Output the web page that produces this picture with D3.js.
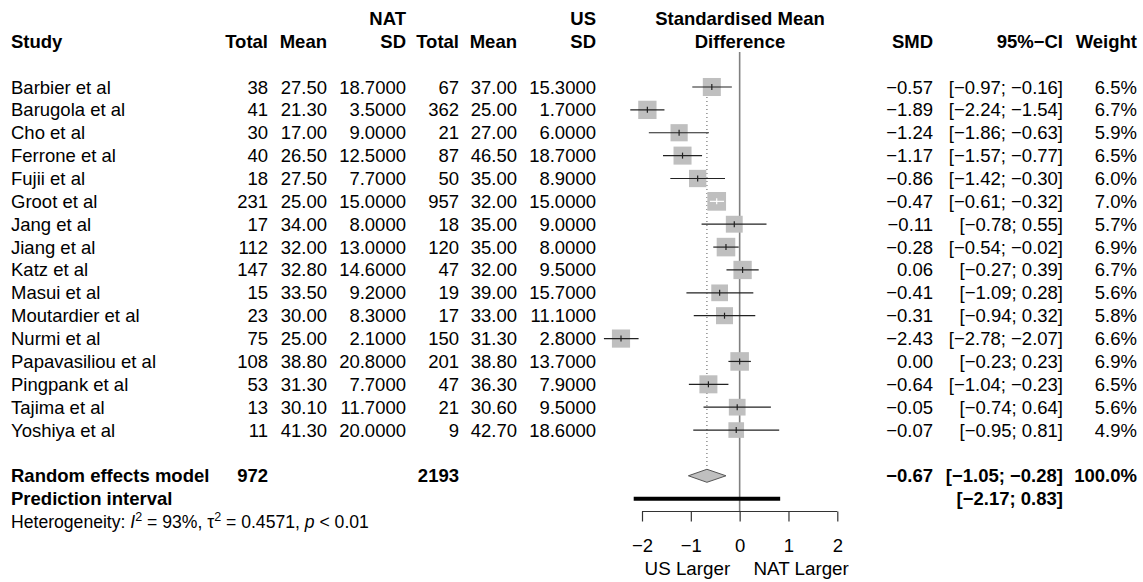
<!DOCTYPE html>
<html>
<head>
<meta charset="utf-8">
<script src="https://cdn.jsdelivr.net/npm/d3@7"></script>
<style>
  body { margin: 0; background: #fff; }
  svg { font-family: "Liberation Sans", Arial, sans-serif; }
</style>
</head>
<body>
<svg id="forest" width="1143" height="582"></svg>
<script>
var studies = ["Barbier et al", "Barugola et al", "Cho et al", "Ferrone et al", "Fujii et al", "Groot et al",
    "Jang et al", "Jiang et al", "Katz et al", "Masui et al", "Moutardier et al", "Nurmi et al",
    "Papavasiliou et al", "Pingpank et al", "Tajima et al", "Yoshiya et al"];
var natTotal = [38, 41, 30, 40, 18, 231, 17, 112, 147, 15, 23, 75, 108, 53, 13, 11];
var natMean = [27.5, 21.3, 17, 26.5, 27.5, 25, 34, 32, 32.8, 33.5, 30, 25, 38.8, 31.3, 30.1, 41.3];
var natSD = [18.7, 3.5, 9, 12.5, 7.7, 15, 8, 13, 14.6, 9.2, 8.3, 2.1, 20.8, 7.7, 11.7, 20];
var usTotal = [67, 362, 21, 87, 50, 957, 18, 120, 47, 19, 17, 150, 201, 47, 21, 9];
var usMean = [37, 25, 27, 46.5, 35, 32, 35, 35, 32, 39, 33, 31.3, 38.8, 36.3, 30.6, 42.7];
var usSD = [15.3, 1.7, 6, 18.7, 8.9, 15, 9, 8, 9.5, 15.7, 11.1, 2.8, 13.7, 7.9, 9.5, 18.6];
var smd = [-0.57, -1.89, -1.24, -1.17, -0.86, -0.47, -0.11, -0.28, 0.06, -0.41, -0.31, -2.43, 0.00, -0.64, -0.05, -0.07];
var ciLow = [-0.97, -2.24, -1.86, -1.57, -1.42, -0.61, -0.78, -0.54, -0.27, -1.09, -0.94, -2.78, -0.23, -1.04, -0.74, -0.95];
var ciHigh = [-0.16, -1.54, -0.63, -0.77, -0.30, -0.32, 0.55, -0.02, 0.39, 0.28, 0.32, -2.07, 0.23, -0.23, 0.64, 0.81];
var weight = [6.5, 6.7, 5.9, 6.5, 6.0, 7.0, 5.7, 6.9, 6.7, 5.6, 5.8, 6.6, 6.9, 6.5, 5.6, 4.9];

var pooled = {smd: -0.67, low: -1.05, high: -0.28, natN: 972, usN: 2193};
var predInt = [-2.17, 0.83];
var axisTicks = [-2, -1, 0, 1, 2];

var svg = d3.select("#forest");
var fs = 18.5;

// one row = 22.87px, row 0 is the first study
var y = d3.scaleLinear().domain([0, 1]).range([87, 109.87]);
var x = d3.scaleLinear().domain([-2, 2]).range([642, 837.3]);
var boxSize = d3.scaleSqrt().domain([0, 7]).range([0, 18.7]);

var fmt2 = d3.format(".2f"), fmt4 = d3.format(".4f"), fmt1 = d3.format(".1f");
var minus = s => s.replace("-", "\u2212");
var ci = (l, h) => "[" + minus(fmt2(l)) + "; " + (h < 0 ? "" : " ") + minus(fmt2(h)) + "]";

var txt = (xx, row, s, anchor, bold, size) => svg.append("text")
    .attr("x", xx).attr("y", y(row) + 6.5)
    .attr("text-anchor", anchor || "end")
    .attr("font-weight", bold ? "bold" : null)
    .attr("font-size", size || fs)
    .text(s);

// headers
txt(406, -3, "NAT", "end", true);
txt(596, -3, "US", "end", true);
txt(740, -3, "Standardised Mean", "middle", true);
txt(740, -2, "Difference", "middle", true);
txt(11, -2, "Study", "start", true);
[[268, "Total"], [327, "Mean"], [406, "SD"], [459, "Total"], [517, "Mean"], [596, "SD"],
 [933, "SMD"], [1063, "95%\u2212CI"], [1137, "Weight"]].forEach(d => txt(d[0], -2, d[1], "end", true));

// study rows
studies.forEach((s, i) => {
    txt(11, i, s, "start");
    txt(268, i, natTotal[i]);
    txt(327, i, fmt2(natMean[i]));
    txt(406, i, fmt4(natSD[i]));
    txt(459, i, usTotal[i]);
    txt(517, i, fmt2(usMean[i]));
    txt(596, i, fmt4(usSD[i]));
    txt(933, i, minus(fmt2(smd[i])));
    txt(1063, i, ci(ciLow[i], ciHigh[i]));
    txt(1137, i, fmt1(weight[i]) + "%");
});

// summary rows
txt(11, 17, "Random effects model", "start", true);
txt(268, 17, pooled.natN, "end", true);
txt(459, 17, pooled.usN, "end", true);
txt(933, 17, minus(fmt2(pooled.smd)), "end", true);
txt(1063, 17, ci(pooled.low, pooled.high), "end", true);
txt(1137, 17, "100.0%", "end", true);
txt(11, 18, "Prediction interval", "start", true);
txt(1063, 18, ci(predInt[0], predInt[1]), "end", true);

var het = svg.append("text").attr("x", 11).attr("y", y(19) + 6).attr("font-size", 17.6);
het.append("tspan").text("Heterogeneity: ");
het.append("tspan").attr("font-style", "italic").text("I");
het.append("tspan").attr("dy", -7).attr("font-size", 12.5).text("2");
het.append("tspan").attr("dy", 7).text(" = 93%, \u03c4");
het.append("tspan").attr("dy", -7).attr("font-size", 12.5).text("2");
het.append("tspan").attr("dy", 7).text(" = 0.4571, ");
het.append("tspan").attr("font-style", "italic").text("p");
het.append("tspan").text(" < 0.01");

// reference lines
svg.append("line")
    .attr("x1", x(0)).attr("x2", x(0)).attr("y1", 52).attr("y2", 511.5)
    .attr("stroke", "#808080").attr("stroke-width", 1.6);
svg.append("line")
    .attr("x1", x(pooled.smd)).attr("x2", x(pooled.smd)).attr("y1", y(0) + 10).attr("y2", y(17) - 7)
    .attr("stroke", "#555").attr("stroke-width", 1).attr("stroke-dasharray", "1,3");

// study boxes and CIs
var g = svg.append("g");
studies.forEach((s, i) => {
    var b = boxSize(weight[i]);
    g.append("rect")
        .attr("x", x(smd[i]) - b / 2).attr("y", y(i) - b / 2)
        .attr("width", b).attr("height", b)
        .attr("fill", "#bfbfbf");
    var inside = x(ciLow[i]) > x(smd[i]) - b / 2 && x(ciHigh[i]) < x(smd[i]) + b / 2;
    var col = inside ? "#fff" : "#222";
    g.append("line")
        .attr("x1", x(ciLow[i])).attr("x2", x(ciHigh[i])).attr("y1", y(i)).attr("y2", y(i))
        .attr("stroke", col).attr("stroke-width", 1.2);
    g.append("line")
        .attr("x1", x(smd[i])).attr("x2", x(smd[i])).attr("y1", y(i) - 3).attr("y2", y(i) + 3)
        .attr("stroke", col).attr("stroke-width", 1.2);
});

// diamond
var yd = y(17);
svg.append("polygon")
    .attr("points", [[x(pooled.low), yd], [x(pooled.smd), yd - 6.5], [x(pooled.high), yd], [x(pooled.smd), yd + 6.5]].join(" "))
    .attr("fill", "#bfbfbf").attr("stroke", "#555").attr("stroke-width", 1);

// prediction interval
svg.append("line")
    .attr("x1", x(predInt[0])).attr("x2", x(predInt[1])).attr("y1", y(18)).attr("y2", y(18))
    .attr("stroke", "#000").attr("stroke-width", 4);

// axis
var ax = svg.append("g")
    .attr("transform", "translate(0,511.5)")
    .call(d3.axisBottom(x).tickValues(axisTicks).tickFormat(d3.format("d"))
        .tickSize(10).tickPadding(17).tickSizeOuter(0));
ax.select(".domain").attr("d", "M" + x(-2) + ",0H" + x(2));
ax.selectAll("path, line").attr("stroke", "#333").attr("stroke-width", 1.2);
ax.selectAll("text").attr("font-size", fs).attr("font-family", "Liberation Sans, Arial, sans-serif").attr("fill", "#000");

svg.append("text").attr("x", x(-1.07)).attr("y", 575).attr("text-anchor", "middle").attr("font-size", 18.8).text("US Larger");
svg.append("text").attr("x", x(1.26)).attr("y", 575).attr("text-anchor", "middle").attr("font-size", 18.8).text("NAT Larger");
</script>
</body>
</html>
